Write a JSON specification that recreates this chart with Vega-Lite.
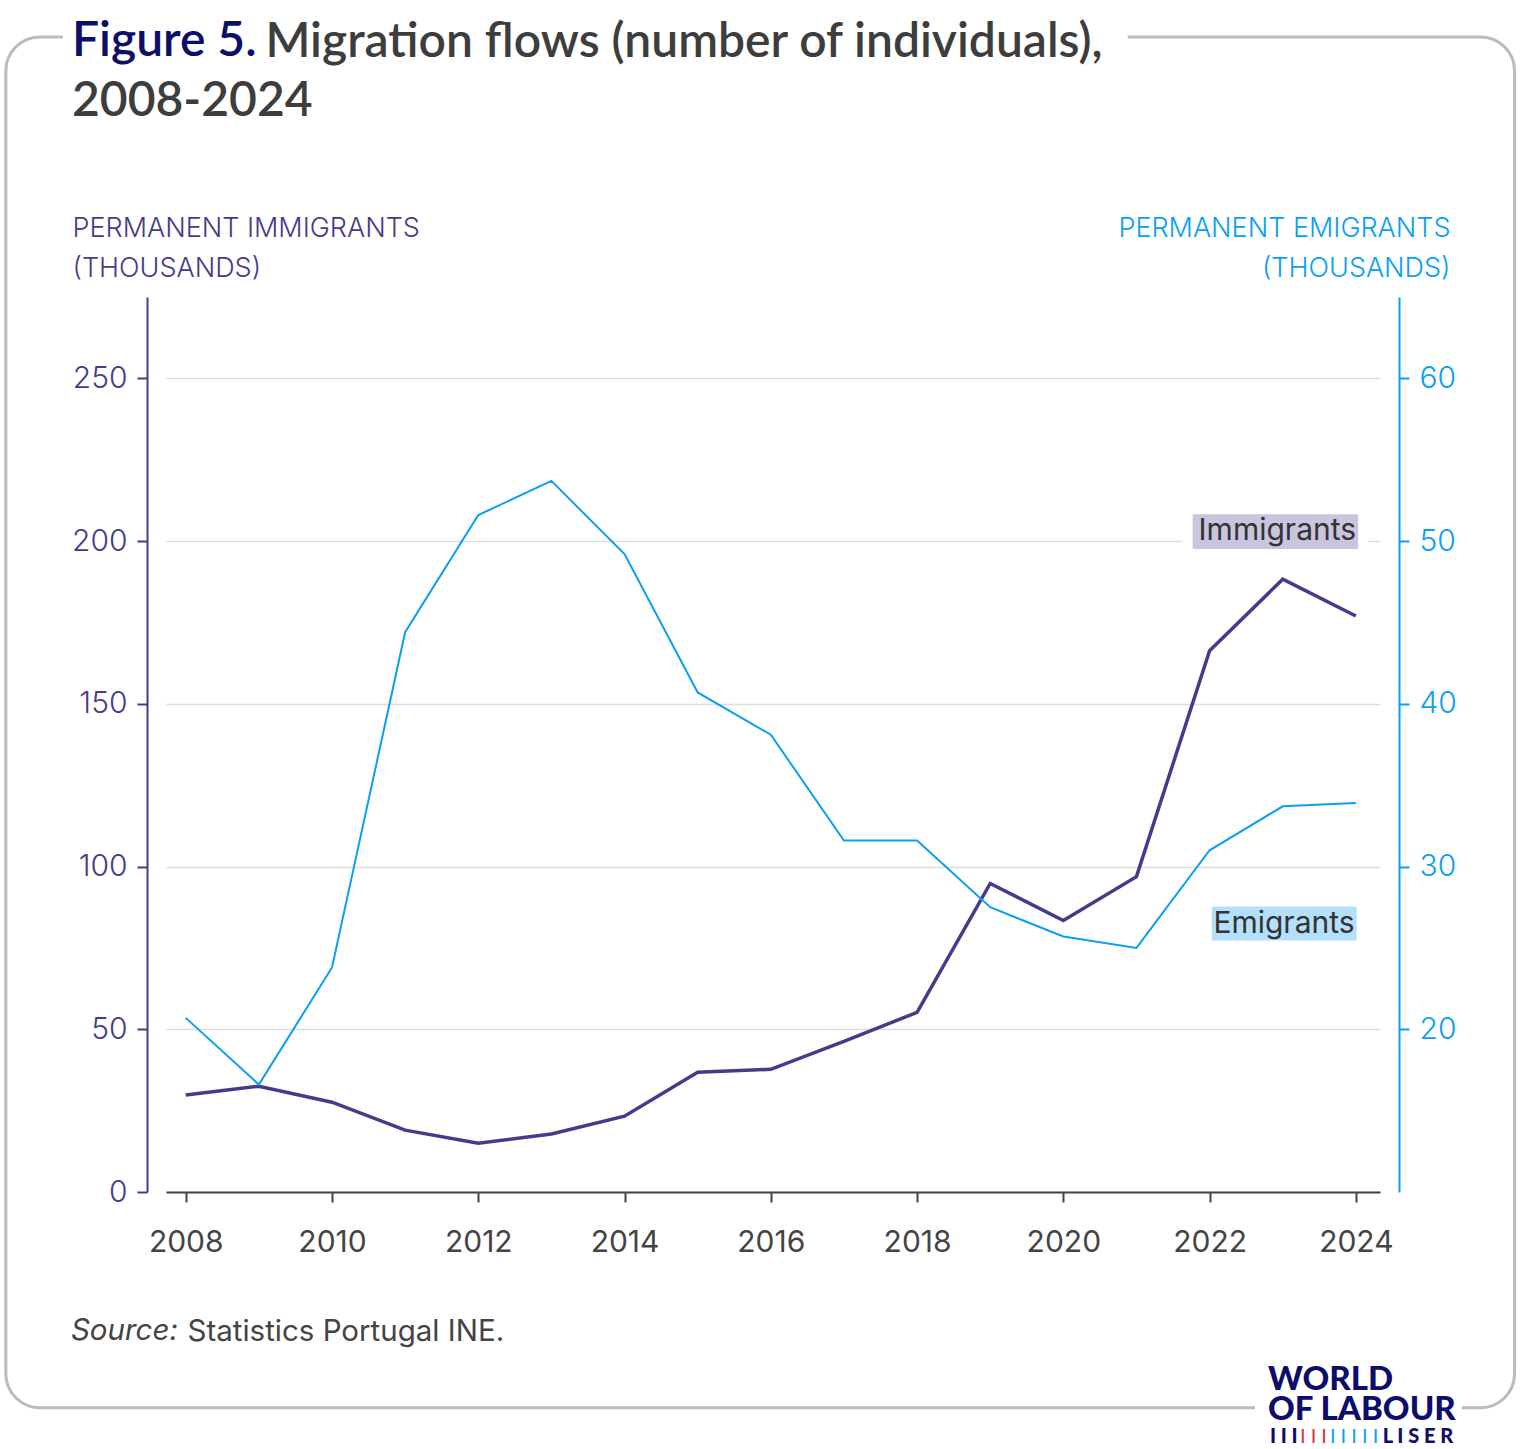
{
  "$schema": "https://vega.github.io/schema/vega-lite/v6.json",
  "width": 1214,
  "height": 895,
  "autosize": {"type": "none"},
  "padding": {"left": 166, "top": 297, "right": 140, "bottom": 257},
  "background": "white",
  "config": {"view": {"stroke": null}},
  "title": {
    "text": "Figure 5.",
    "subtitle": "2008-2024",
    "anchor": "start",
    "frame": "group",
    "dx": -94,
    "dy": 112,
    "zindex": 1,
    "font": "Lato",
    "fontSize": 48,
    "fontWeight": 600,
    "color": "#0d0d6b",
    "subtitleFont": "Lato",
    "subtitleFontSize": 48,
    "subtitleFontWeight": 600,
    "subtitleColor": "#3d3d3d",
    "subtitlePadding": 12
  },
  "datasets": {
    "flows": [
      {"year": 2008, "immigrants": 29.8, "emigrants": 20.7},
      {"year": 2009, "immigrants": 32.5, "emigrants": 16.6},
      {"year": 2010, "immigrants": 27.6, "emigrants": 23.8},
      {"year": 2011, "immigrants": 19.0, "emigrants": 44.4},
      {"year": 2012, "immigrants": 15.0, "emigrants": 51.6},
      {"year": 2013, "immigrants": 17.8, "emigrants": 53.7},
      {"year": 2014, "immigrants": 23.3, "emigrants": 49.2},
      {"year": 2015, "immigrants": 36.8, "emigrants": 40.7},
      {"year": 2016, "immigrants": 37.7, "emigrants": 38.1},
      {"year": 2017, "immigrants": 46.3, "emigrants": 31.6},
      {"year": 2018, "immigrants": 55.2, "emigrants": 31.6},
      {"year": 2019, "immigrants": 94.8, "emigrants": 27.5},
      {"year": 2020, "immigrants": 83.4, "emigrants": 25.7},
      {"year": 2021, "immigrants": 96.9, "emigrants": 25.0},
      {"year": 2022, "immigrants": 166.3, "emigrants": 31.0},
      {"year": 2023, "immigrants": 188.3, "emigrants": 33.7},
      {"year": 2024, "immigrants": 177.0, "emigrants": 33.9}
    ],
    "note": [{"label": "note"}]
  },
  "layer": [
    {
      "layer": [
        {
          "data": {"name": "note"},
          "mark": {"type": "rect", "filled": false, "stroke": "#bbbbbb", "strokeWidth": 3, "cornerRadius": 34, "clip": false},
          "encoding": {
            "x": {"datum": 2005.54},
            "x2": {"datum": 2026.17},
            "y": {"datum": 354.9},
            "y2": {"datum": -66.3}
          }
        },
        {
          "data": {"name": "note"},
          "mark": {"type": "rect", "color": "white", "clip": false},
          "encoding": {
            "x": {"datum": 2006.32},
            "x2": {"datum": 2020.88},
            "y": {"datum": 356.7},
            "y2": {"datum": 353.1}
          }
        },
        {
          "data": {"name": "note"},
          "mark": {"type": "rect", "color": "white", "clip": false},
          "encoding": {
            "x": {"datum": 2022.62},
            "x2": {"datum": 2025.45},
            "y": {"datum": -64.4},
            "y2": {"datum": -68.1}
          }
        },
        {
          "data": {"name": "flows"},
          "mark": {"type": "line", "color": "#463b8a", "strokeWidth": 3.5},
          "encoding": {
            "x": {
              "field": "year",
              "type": "quantitative",
              "scale": {"domain": [2007.73, 2024.33], "nice": false, "zero": false},
              "axis": {
                "orient": "bottom",
                "values": [2008, 2010, 2012, 2014, 2016, 2018, 2020, 2022, 2024],
                "format": "d",
                "grid": false,
                "domainColor": "#444444",
                "domainWidth": 2,
                "tickColor": "#444444",
                "tickWidth": 2,
                "tickSize": 10,
                "labelFont": "Inter",
                "labelFontSize": 30,
                "labelColor": "#444444",
                "labelPadding": 25,
                "title": "Statistics Portugal INE.",
                "titleFont": "Inter",
                "titleFontSize": 29.5,
                "titleFontWeight": "normal",
                "titleColor": "#444444",
                "titleAlign": "left",
                "titleBaseline": "alphabetic",
                "titleAnchor": "start",
                "titleX": 21,
                "titleY": 148
              }
            },
            "y": {
              "field": "immigrants",
              "type": "quantitative",
              "scale": {"domain": [0, 275], "nice": false},
              "axis": {
                "orient": "left",
                "offset": 19,
                "values": [0, 50, 100, 150, 200, 250],
                "grid": true,
                "gridColor": "#dddddd",
                "gridWidth": 1.5,
                "domainColor": "#463b8a",
                "domainWidth": 2,
                "tickColor": "#463b8a",
                "tickWidth": 2,
                "tickSize": 10,
                "labelFont": "Inter",
                "labelFontSize": 30,
                "labelFontWeight": 300,
                "labelColor": "#463b8a",
                "labelPadding": 10,
                "title": ["PERMANENT IMMIGRANTS", "(THOUSANDS)"],
                "titleFont": "Inter",
                "titleFontSize": 27,
                "titleFontWeight": 300,
                "titleColor": "#463b8a",
                "titleAngle": 0,
                "titleAlign": "left",
                "titleBaseline": "top",
                "titleLineHeight": 40,
                "titleX": -75,
                "titleY": -82
              }
            }
          }
        },
        {
          "data": {"name": "note"},
          "mark": {"type": "text", "text": "Source:", "align": "left", "baseline": "alphabetic", "font": "Inter", "fontStyle": "italic", "fontSize": 29.5, "color": "#444444", "clip": false},
          "encoding": {
            "x": {"datum": 2006.43},
            "y": {"datum": -45.4}
          }
        },
        {
          "data": {"name": "note"},
          "mark": {"type": "rect", "color": "#c9c5de", "stroke": "white", "strokeWidth": 10, "strokeOpacity": 1},
          "encoding": {
            "x": {"datum": 2021.70},
            "x2": {"datum": 2024.10},
            "y": {"datum": 209.8},
            "y2": {"datum": 196.0}
          }
        },
        {
          "data": {"name": "note"},
          "mark": {"type": "text", "text": "Immigrants", "align": "right", "baseline": "middle", "font": "Inter", "fontSize": 30, "color": "#333333", "dx": -2},
          "encoding": {
            "x": {"datum": 2024.03},
            "y": {"datum": 203}
          }
        }
      ]
    },
    {
      "layer": [
        {
          "data": {"name": "flows"},
          "mark": {"type": "line", "color": "#0b9ff2", "strokeWidth": 2},
          "encoding": {
            "x": {
              "field": "year",
              "type": "quantitative",
              "scale": {"domain": [2007.73, 2024.33], "nice": false, "zero": false},
              "axis": {
                "orient": "top",
                "zindex": 1,
                "labels": false,
                "ticks": false,
                "domain": false,
                "grid": false,
                "title": "Migration flows (number of individuals),",
                "titleFont": "Lato",
                "titleFontSize": 48,
                "titleFontWeight": 600,
                "titleColor": "#3d3d3d",
                "titleAlign": "left",
                "titleBaseline": "alphabetic",
                "titleAnchor": "start",
                "titleX": 99,
                "titleY": -241
              }
            },
            "y": {
              "field": "emigrants",
              "type": "quantitative",
              "scale": {"domain": [10, 65], "nice": false, "zero": false},
              "axis": {
                "orient": "right",
                "offset": 19,
                "values": [20, 30, 40, 50, 60],
                "grid": false,
                "domainColor": "#0b9ff2",
                "domainWidth": 2,
                "tickColor": "#0b9ff2",
                "tickWidth": 2,
                "tickSize": 10,
                "labelFont": "Inter",
                "labelFontSize": 30,
                "labelFontWeight": 300,
                "labelColor": "#0b9ff2",
                "labelPadding": 10,
                "title": ["PERMANENT EMIGRANTS", "(THOUSANDS)"],
                "titleFont": "Inter",
                "titleFontSize": 27,
                "titleFontWeight": 300,
                "titleColor": "#0b9ff2",
                "titleAngle": 0,
                "titleAlign": "right",
                "titleBaseline": "top",
                "titleLineHeight": 40,
                "titleX": 51,
                "titleY": -82
              }
            }
          }
        },
        {
          "data": {"name": "note"},
          "mark": {"type": "rect", "color": "#b5e0fb"},
          "encoding": {
            "x": {"datum": 2022.03},
            "x2": {"datum": 2024.01},
            "y": {"datum": 27.55},
            "y2": {"datum": 25.46}
          }
        },
        {
          "data": {"name": "note"},
          "mark": {"type": "text", "text": "Emigrants", "align": "right", "baseline": "middle", "font": "Inter", "fontSize": 30, "color": "#333333", "dx": -2},
          "encoding": {
            "x": {"datum": 2024.01},
            "y": {"datum": 26.5}
          }
        },
        {
          "data": {"name": "note"},
          "mark": {"type": "text", "text": "WORLD", "align": "left", "baseline": "alphabetic", "font": "Lato", "fontWeight": 900, "fontSize": 33, "color": "#0d0d6b", "clip": false},
          "encoding": {
            "x": {"datum": 2022.80},
            "y": {"datum": -2.15}
          }
        },
        {
          "data": {"name": "note"},
          "mark": {"type": "text", "text": "OF LABOUR", "align": "left", "baseline": "alphabetic", "font": "Lato", "fontWeight": 900, "fontSize": 33, "color": "#0d0d6b", "clip": false},
          "encoding": {
            "x": {"datum": 2022.80},
            "y": {"datum": -3.99}
          }
        },
        {
          "data": {"name": "note"},
          "mark": {"type": "text", "text": "I I I", "align": "left", "baseline": "alphabetic", "font": "Lato", "fontWeight": 900, "fontSize": 20, "color": "#0d0d6b", "clip": false},
          "encoding": {
            "x": {"datum": 2022.825},
            "y": {"datum": -5.4}
          }
        },
        {
          "data": {"name": "note"},
          "mark": {"type": "text", "text": "I I I", "align": "left", "baseline": "alphabetic", "font": "Lato", "fontWeight": 400, "fontSize": 20, "color": "#e0303c", "clip": false},
          "encoding": {
            "x": {"datum": 2023.235},
            "y": {"datum": -5.4}
          }
        },
        {
          "data": {"name": "note"},
          "mark": {"type": "text", "text": "I I I I I", "align": "left", "baseline": "alphabetic", "font": "Lato", "fontWeight": 400, "fontSize": 20, "color": "#0b9ff2", "clip": false},
          "encoding": {
            "x": {"datum": 2023.645},
            "y": {"datum": -5.4}
          }
        },
        {
          "data": {"name": "note"},
          "mark": {"type": "text", "text": "L I S E R", "align": "right", "baseline": "alphabetic", "font": "Lato", "fontWeight": 900, "fontSize": 20, "color": "#0d0d6b", "clip": false},
          "encoding": {
            "x": {"datum": 2025.33},
            "y": {"datum": -5.4}
          }
        }
      ]
    }
  ],
  "resolve": {"scale": {"y": "independent"}, "axis": {"x": "independent", "y": "independent"}}
}
